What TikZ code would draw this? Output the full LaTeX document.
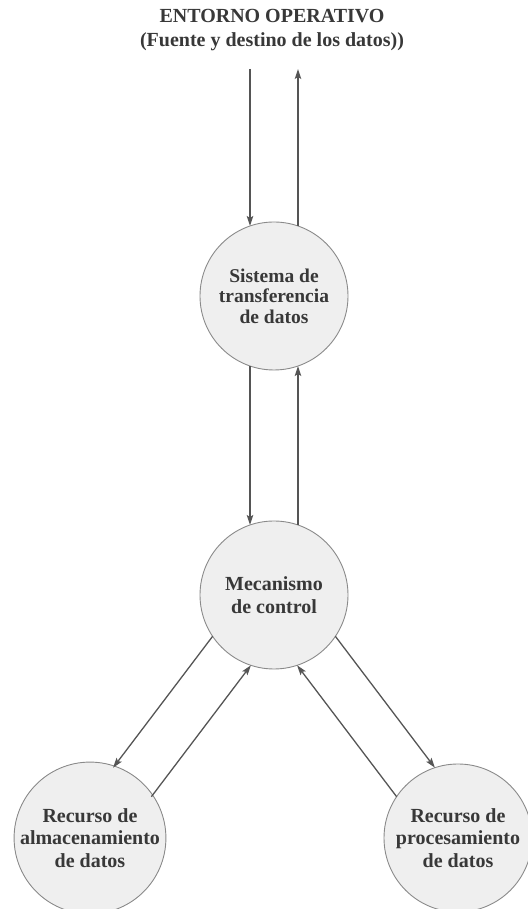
\documentclass[tikz,border=0pt]{standalone}
\usepackage{fontspec}
\setmainfont{Liberation Serif}
\usetikzlibrary{calc,arrows.meta}
\definecolor{txt}{HTML}{383838}
\definecolor{circfill}{HTML}{EFEFEF}
\definecolor{circline}{HTML}{8A8A8A}
\definecolor{arrline}{HTML}{555555}
\tikzset{
  proc/.style={circle, draw=circline, fill=circfill, line width=0.9pt,
    minimum size=148pt, inner sep=0pt, align=center, text=txt,
    font=\bfseries\fontsize{20}{22.5}\selectfont},
  title/.style={align=center, text=txt, inner sep=0pt,
    font=\bfseries\fontsize{20}{24}\selectfont},
  arr/.style={draw=arrline, line width=1.3pt, -{Stealth[length=10pt,width=6.5pt,inset=2pt]}},
  chord/.style={shorten <=70pt, shorten >=70pt},
}
\begin{document}
\begin{tikzpicture}[x=1pt,y=1pt]
\useasboundingbox (0,0) rectangle (527,909);
% nodes
\node[title] (env) at (272,879) {ENTORNO OPERATIVO\\(Fuente y destino de los datos))};
\node[proc, font=\bfseries\fontsize{19.5}{20.5}\selectfont] (t) at (274,613) {Sistema de\\transferencia\\de datos};
\node[proc] (m) at (274,314) {Mecanismo\\de control};
\node[proc] (bl) at (90,71) {Recurso de\\almacenamiento\\de datos};
\node[proc] (br) at (458,71) {Recurso de\\procesamiento\\de datos};
% free ends below the title
\coordinate (inL) at (250,840);
\coordinate (inR) at (298,840);
% environment <-> transfer system
\draw[arr, shorten >=70pt] (inL) -- (inL |- t);
\draw[arr, shorten <=70pt] (inR |- t) -- (inR);
% transfer system <-> control
\draw[arr, chord] ($(t)!24pt!-90:(m)$) -- ($(m)!24pt!90:(t)$);
\draw[arr, chord] ($(m)!24pt!-90:(t)$) -- ($(t)!24pt!90:(m)$);
% control <-> storage
\draw[arr, chord] ($(m)!24pt!-90:(bl)$) -- ($(bl)!24pt!90:(m)$);
\draw[arr, chord] ($(bl)!24pt!-90:(m)$) -- ($(m)!24pt!90:(bl)$);
% control <-> processing
\draw[arr, chord] ($(m)!24pt!90:(br)$) -- ($(br)!24pt!-90:(m)$);
\draw[arr, chord] ($(br)!24pt!90:(m)$) -- ($(m)!24pt!-90:(br)$);
\end{tikzpicture}
\end{document}
